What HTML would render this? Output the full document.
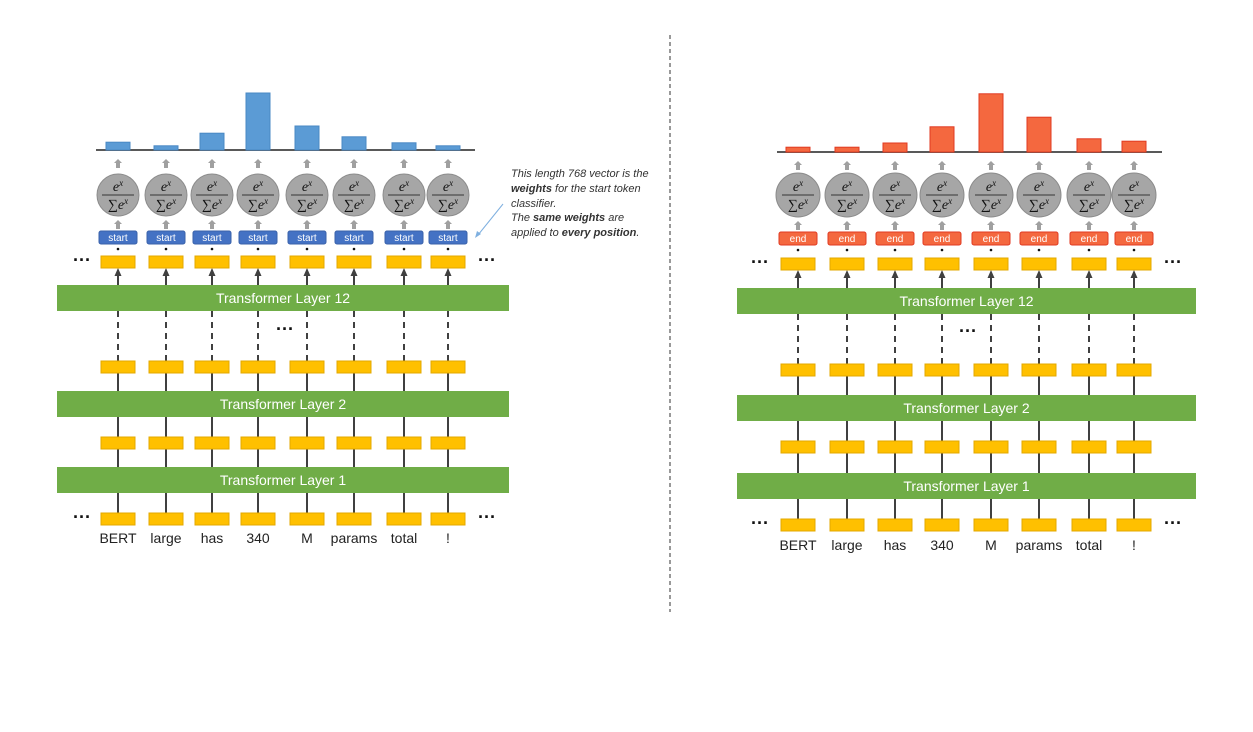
<!DOCTYPE html>
<html><head><meta charset="utf-8"><style>
html,body{margin:0;padding:0;background:#fff;}
svg{display:block;font-family:"Liberation Sans",sans-serif;}
</style></head><body>
<svg id="c" width="1253" height="732" viewBox="0 0 1253 732">
<defs>
<marker id="ah" markerUnits="userSpaceOnUse" markerWidth="8" markerHeight="8" refX="4" refY="4" orient="auto"><path d="M0,0.5 L8,4 L0,7.5 Z" fill="#404040"/></marker>
</defs>
<line x1="670" y1="35" x2="670" y2="612" stroke="#333" stroke-width="1" stroke-dasharray="4,3"/>
<g font-style="italic" font-size="11" fill="#333">
<text x="511" y="177">This length 768 vector is the</text>
<text x="511" y="192"><tspan font-weight="bold">weights</tspan> for the start token</text>
<text x="511" y="207">classifier.</text>
<text x="511" y="221">The <tspan font-weight="bold">same weights</tspan> are</text>
<text x="511" y="236">applied to <tspan font-weight="bold">every position</tspan>.</text>
</g>
<line x1="503" y1="204" x2="478" y2="235" stroke="#7fb0e0" stroke-width="1"/>
<path d="M475,238 L477,231 L481,234 Z" fill="#7fb0e0"/>
</svg>
<script>
const tokens = ["BERT","large","has","340","M","params","total","!"];
const startProbs = [0.13,0.07,0.28,0.95,0.40,0.22,0.12,0.07];
const endProbs = [0.08,0.08,0.15,0.42,0.97,0.58,0.22,0.18];

const svg = document.getElementById('c');
const NS = 'http://www.w3.org/2000/svg';
function mk(tag, attrs, parent){
  const e = document.createElementNS(NS, tag);
  for (const k in attrs) e.setAttribute(k, attrs[k]);
  (parent||svg).appendChild(e);
  return e;
}
function panel(p){
  const g = mk('g', {});
  
  
  const yScale = v => p.base - v * 60;
  const bl = mk('line', {x1:p.blx1, x2:p.blx2, y1:p.base, y2:p.base, stroke:'#595959','stroke-width':2}, g);
  
  
  p.layers.forEach(L=>{
    const r = mk('rect', {x:p.lx1, y:L.y, width:p.lx2-p.lx1, height:26, fill:'#70ad47'}, g);
    
    
    const t = mk('text', {x:(p.lx1+p.lx2)/2, y:L.y+18, 'text-anchor':'middle', fill:'#fff','font-size':14}, g);
    t.textContent = L.label;
  });
  p.xs.forEach((x,i)=>{
    const v = p.values[i];
    const b = mk('rect', {x:x-12, y:yScale(v), width:24, height:p.base-yScale(v), fill:p.barFill, stroke:p.barStroke,'stroke-width':1}, g);
    
    
    [p.base+13, p.cy+p.r+8].forEach(ay=>{
      mk('path', {d:`M${x-2},${ay+5} L${x-2},${ay} L${x-4},${ay} L${x},${ay-4} L${x+4},${ay} L${x+2},${ay} L${x+2},${ay+5} Z`, fill:'#a0a0a0'}, g);
    });
    const c = mk('circle', {cx:x, cy:p.cy, r:p.r, fill:'#a6a6a6', stroke:'#8c8c8c'}, g);
    
    
    const t1 = mk('text', {x:x, y:p.cy-4, 'text-anchor':'middle','font-family':'Liberation Serif, serif','font-style':'italic','font-size':14, fill:'#111'}, g);
    t1.innerHTML = 'e<tspan dy="-5" font-size="9">x</tspan>';
    mk('line', {x1:x-16, x2:x+16, y1:p.cy, y2:p.cy, stroke:'#111','stroke-width':0.8}, g);
    const t2 = mk('text', {x:x, y:p.cy+14, 'text-anchor':'middle','font-family':'Liberation Serif, serif','font-size':14, fill:'#111'}, g);
    t2.innerHTML = '∑<tspan font-style="italic">e</tspan><tspan dy="-5" font-size="9" font-style="italic">x</tspan>';
    const cb = mk('rect', {x:x-19, y:p.cbY, width:38, height:13, rx:2, fill:p.cbFill, stroke:p.cbStroke}, g);
    
    
    const ct = mk('text', {x:x, y:p.cbY+10, 'text-anchor':'middle', fill:'#fff','font-size':10}, g);
    ct.textContent = p.cbLabel;
    mk('circle', {cx:x, cy:p.cbY+18, r:1.3, fill:'#111'}, g);
    const L = p.layers;
    mk('line', {x1:x, x2:x, y1:L[0].y, y2:p.yel[0]+16, stroke:'#404040','stroke-width':2,'marker-end':'url(#ah)'}, g);
    mk('line', {x1:x, x2:x, y1:L[0].y+26, y2:p.yel[1], stroke:'#404040','stroke-width':2,'stroke-dasharray':'6,5'}, g);
    mk('line', {x1:x, x2:x, y1:p.yel[1]+12, y2:L[1].y, stroke:'#404040','stroke-width':2}, g);
    mk('line', {x1:x, x2:x, y1:L[1].y+26, y2:L[2].y, stroke:'#404040','stroke-width':2}, g);
    mk('line', {x1:x, x2:x, y1:L[2].y+26, y2:p.yel[3], stroke:'#404040','stroke-width':2}, g);
    p.yel.forEach(yy=>{
      const yb = mk('rect', {x:x-17, y:yy, width:34, height:12, fill:'#ffc000', stroke:'#e3a800'}, g);
      
      
    });
    const w = mk('text', {x:x, y:p.wordY, 'text-anchor':'middle', fill:'#222','font-size':14}, g);
    
    
    w.textContent = tokens[i];
  });
  [[p.dotL, p.yel[0]+10],[p.dotR, p.yel[0]+10],[p.dotL, p.yel[3]+10],[p.dotR, p.yel[3]+10],[p.dotM, p.dotMy]].forEach(d=>{
    const t = mk('text', {x:d[0], y:d[1], 'text-anchor':'middle', fill:'#111','font-size':18,'font-weight':'bold'}, g);
    t.textContent = '···';
  });
}
panel({name:'start-panel', xs:[118,166,212,258,307,354,404,448], values:startProbs, base:150, blx1:96, blx2:475,
  cy:195, r:21, cbY:231, cbLabel:'start', cbFill:'#4472c4', cbStroke:'#3a62aa', barFill:'#5b9bd5', barStroke:'#4a88c4',
  lx1:57, lx2:509, layers:[{y:285,label:'Transformer Layer 12'},{y:391,label:'Transformer Layer 2'},{y:467,label:'Transformer Layer 1'}],
  yel:[256,361,437,513], wordY:543, dotL:82, dotR:487, dotM:285, dotMy:335});
panel({name:'end-panel', xs:[798,847,895,942,991,1039,1089,1134], values:endProbs, base:152, blx1:777, blx2:1162,
  cy:195, r:22, cbY:232, cbLabel:'end', cbFill:'#f4683f', cbStroke:'#e03a22', barFill:'#f4683f', barStroke:'#e03a22',
  lx1:737, lx2:1196, layers:[{y:288,label:'Transformer Layer 12'},{y:395,label:'Transformer Layer 2'},{y:473,label:'Transformer Layer 1'}],
  yel:[258,364,441,519], wordY:550, dotL:760, dotR:1173, dotM:968, dotMy:337});
</script>
</body></html>
